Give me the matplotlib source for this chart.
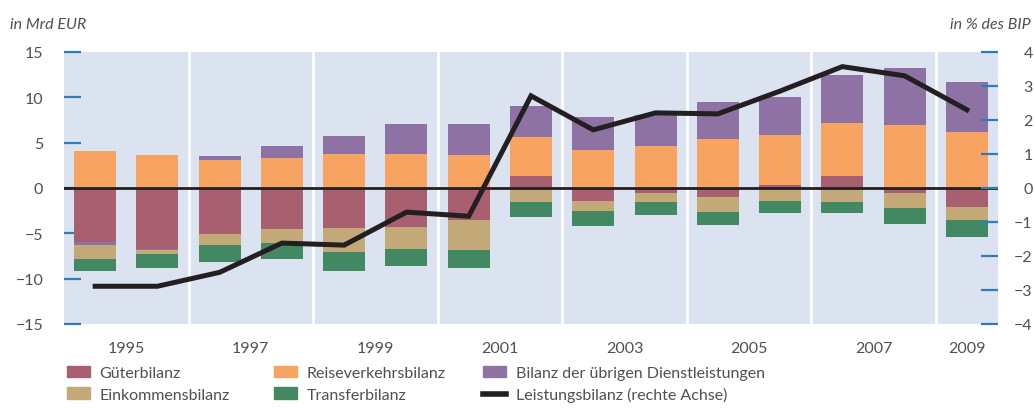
import numpy as np
import matplotlib
matplotlib.use("Agg")
import matplotlib.pyplot as plt
from matplotlib.patches import Patch
from matplotlib.lines import Line2D

years = list(range(1995, 2010))
gueter = [-5.95, -6.70, -5.07, -4.52, -4.41, -4.30, -3.53, 1.32, -1.43, -0.55, -0.99, 0.33, 1.32, -0.55, -2.09]
reise = [4.08, 3.64, 3.09, 3.31, 3.75, 3.75, 3.64, 4.30, 4.19, 4.63, 5.40, 5.51, 5.85, 6.95, 6.17]
dienst = [-0.30, -0.10, 0.44, 1.32, 1.98, 3.31, 3.42, 3.42, 3.64, 3.42, 4.08, 4.19, 5.29, 6.28, 5.52]
einkommen = [-1.55, -0.45, -1.20, -1.54, -2.65, -2.43, -3.31, -1.54, -1.10, -0.99, -1.65, -1.43, -1.54, -1.65, -1.43]
transfer = [-1.32, -1.55, -1.87, -1.76, -2.10, -1.87, -1.98, -1.65, -1.65, -1.43, -1.43, -1.32, -1.21, -1.76, -1.87]
leistung = [-2.89, -2.89, -2.48, -1.62, -1.68, -0.71, -0.83, 2.71, 1.71, 2.21, 2.18, 2.85, 3.57, 3.30, 2.30]

xtick_pos = [1995.5, 1997.5, 1999.5, 2001.5, 2003.5, 2005.5, 2007.5, 2009]
xtick_labels = ["1995", "1997", "1999", "2001", "2003", "2005", "2007", "2009"]
left_ticks = [15, 10, 5, 0, -5, -10, -15]
right_ticks = [4, 3, 2, 1, 0, -1, -2, -3, -4]

series = [
    ("Güterbilanz", gueter, "#A85F70"),
    ("Reiseverkehrsbilanz", reise, "#F7A462"),
    ("Bilanz der übrigen Dienstleistungen", dienst, "#8D72A3"),
    ("Einkommensbilanz", einkommen, "#C4A978"),
    ("Transferbilanz", transfer, "#428862"),
]
line_label = "Leistungsbilanz (rechte Achse)"
line_color = "#231F20"

plt.rcParams['font.family'] = ['Lato', 'DejaVu Sans']
txt_color = "#505050"
tick_blue = "#2E7DB5"
bg = "#DAE3EF"

fig = plt.figure(figsize=(10.34, 4.10), dpi=100)
ax = fig.add_axes([64/1034, 1-325/410, (998-64)/1034, (325-53)/410])
ax.set_facecolor(bg)
for s in ax.spines.values():
    s.set_visible(False)

x = np.array(years, dtype=float)
pos_base = np.zeros(len(years))
neg_base = np.zeros(len(years))
width = 0.675
for name, vals, col in series:
    v = np.array(vals)
    bottoms = np.where(v >= 0, pos_base, neg_base)
    ax.bar(x, v, width=width, bottom=bottoms, color=col, zorder=2, linewidth=0)
    pos_base = pos_base + np.where(v >= 0, v, 0)
    neg_base = neg_base + np.where(v < 0, v, 0)

for sep in np.arange(1996.5, 2009, 2):
    ax.axvline(sep, color="white", lw=2, zorder=1)
ax.axhline(0, color=line_color, lw=2, zorder=3)

ax.set_xlim(1994.5, 2009.5)
ax.set_ylim(-15, 15)
ax.set_yticks(left_ticks)
ax.set_yticklabels([f"{t}".replace("-", "\u2212") for t in left_ticks])
ax.set_xticks(xtick_pos)
ax.set_xticklabels(xtick_labels)
ax.tick_params(axis='x', length=0, pad=12, labelsize=11.5, labelcolor=txt_color)
ax.tick_params(axis='y', direction='in', length=12, width=1.6, color=tick_blue,
               pad=15, labelsize=11.5, labelcolor=txt_color, zorder=5)

ax2 = ax.twinx()
for s in ax2.spines.values():
    s.set_visible(False)
ax2.plot(x, leistung, color=line_color, lw=3.6, zorder=4, solid_joinstyle='miter')
ax2.set_ylim(-4, 4)
ax2.set_yticks(right_ticks)
ax2.set_yticklabels([f"{t}".replace("-", "\u2212") for t in right_ticks])
ax2.tick_params(axis='y', direction='in', length=12, width=1.6, color=tick_blue,
                pad=25, labelsize=11.5, labelcolor=txt_color)
for lab in ax2.get_yticklabels():
    lab.set_horizontalalignment('right')
ax2.set_xlim(1994.5, 2009.5)

fig.text(10/1034, 1-25/410, "in Mrd EUR", style='italic', fontsize=11.5,
         color=txt_color, ha='left', va='center')
fig.text(1031/1034, 1-25/410, "in % des BIP", style='italic', fontsize=11.5,
         color=txt_color, ha='right', va='center')

handles = [Patch(color=c, label=n) for n, _, c in series]
lh = Line2D([], [], color=line_color, lw=4, label=line_label)
cols = [
    ([handles[0], handles[3]], 67),
    ([handles[1], handles[4]], 274),
    ([handles[2], lh], 483),
]
for hs, px in cols:
    leg = fig.legend(handles=hs, loc='upper left', bbox_to_anchor=(px/1034, 1-367/410),
                     frameon=False, fontsize=11.5, handlelength=1.45, handleheight=0.7,
                     handletextpad=0.6, labelspacing=0.45, borderpad=0, borderaxespad=0,
                     labelcolor=txt_color)

fig.savefig("out.png", dpi=100)
